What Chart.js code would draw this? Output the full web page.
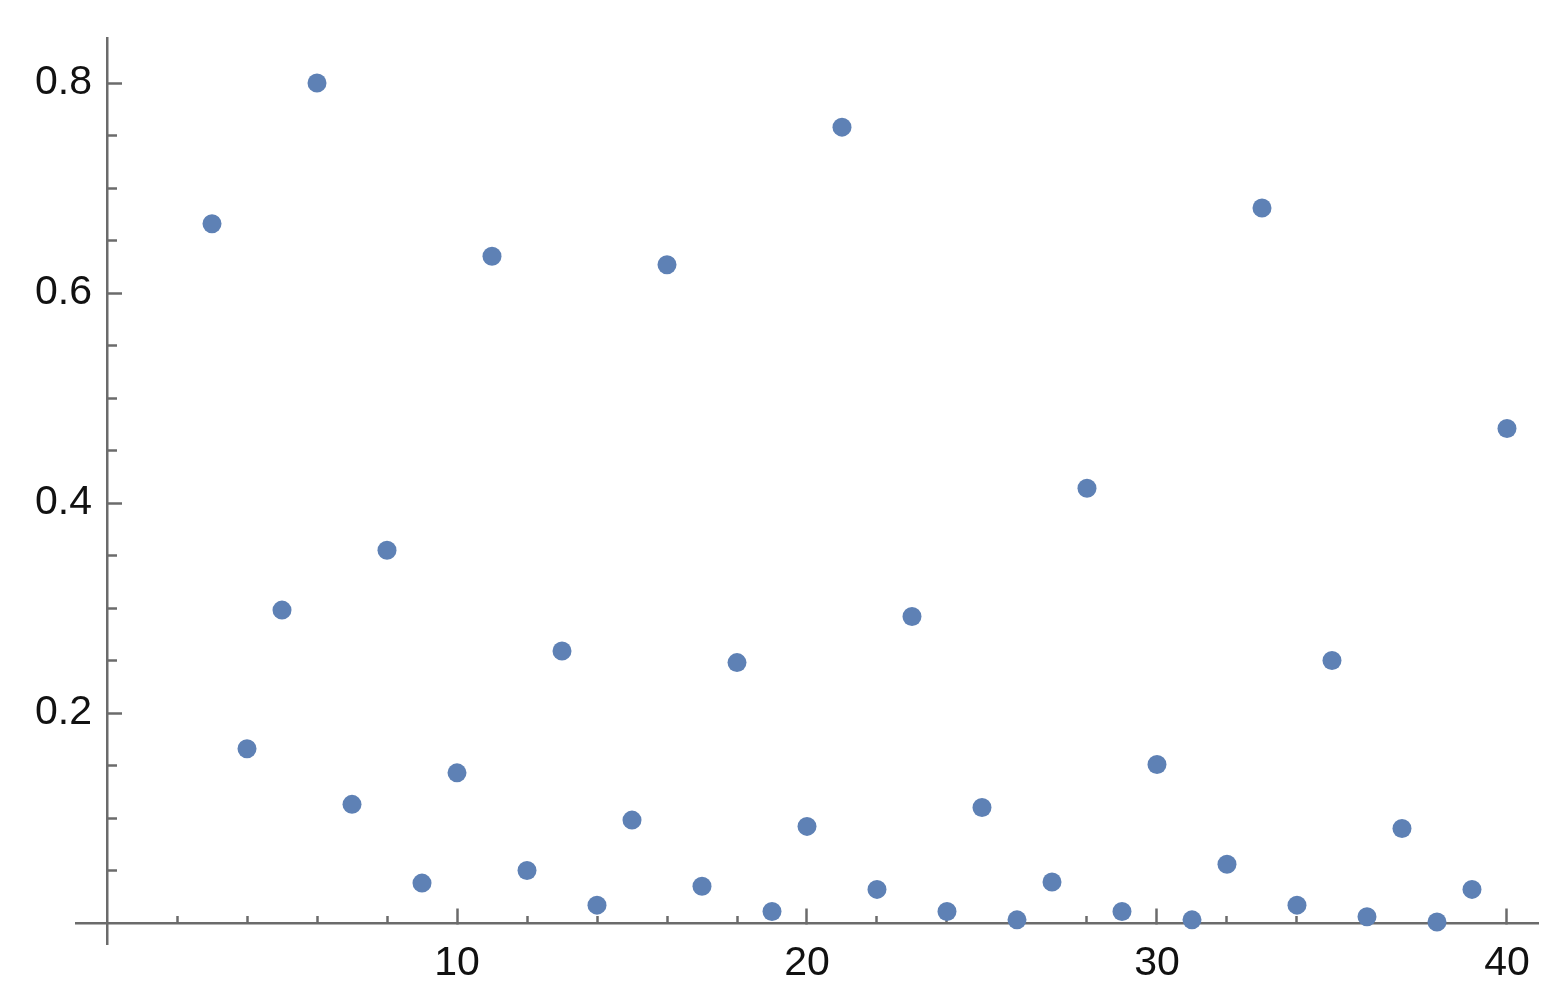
<!DOCTYPE html>
<html>
<head>
<meta charset="utf-8">
<script src="https://cdn.jsdelivr.net/npm/chart.js@4.4.1/dist/chart.umd.min.js"></script>
<style>
  html, body { margin: 0; padding: 0; background: #ffffff; }
</style>
</head>
<body>
<canvas id="grafico" width="1560" height="1003"></canvas>
<script>
// datos
var valoresX = [3, 4, 5, 6, 7, 8, 9, 10, 11, 12, 13, 14, 15, 16, 17, 18, 19, 20, 21,
                22, 23, 24, 25, 26, 27, 28, 29, 30, 31, 32, 33, 34, 35, 36, 37, 38, 39, 40];
var valoresY = [0.666, 0.166, 0.298, 0.800, 0.113, 0.355, 0.038, 0.143, 0.635, 0.050,
                0.259, 0.017, 0.098, 0.627, 0.035, 0.248, 0.011, 0.092, 0.758, 0.032,
                0.292, 0.011, 0.110, 0.003, 0.039, 0.414, 0.011, 0.151, 0.003, 0.056,
                0.681, 0.017, 0.250, 0.006, 0.090, 0.001, 0.032, 0.471];

var ticksX = [10, 20, 30, 40];
var ticksMenoresX = [2, 4, 6, 8, 12, 14, 16, 18, 22, 24, 26, 28, 32, 34, 36, 38];
var ticksY = [0.2, 0.4, 0.6, 0.8];
var ticksMenoresY = [0.05, 0.1, 0.15, 0.25, 0.3, 0.35, 0.45, 0.5, 0.55, 0.65, 0.7, 0.75];

var puntos = valoresX.map(function (x, i) {
    return { x: x, y: valoresY[i] };
});

var colorEje = "#6b6b6b";
var fuente = { family: "'Liberation Sans', Arial, sans-serif", size: 41 };
var rangoX = { min: -0.886, max: 40.886 };
var rangoY = { min: -0.02, max: 0.8429 };

function fijarTicks(lista) {
    return function (escala) {
        escala.ticks = lista.map(function (v) { return { value: v }; });
    };
}

function sinRelleno(escala) {
    escala.paddingLeft = 0;
    escala.paddingRight = 0;
    escala.paddingTop = 0;
    escala.paddingBottom = 0;
}

function ejeX(lista, largo, conEtiquetas) {
    return {
        type: "linear",
        position: { y: 0 },
        min: rangoX.min,
        max: rangoX.max,
        z: 1,
        afterBuildTicks: fijarTicks(lista),
        afterFit: function (s) { s.height = 0; sinRelleno(s); },
        border: { display: conEtiquetas, color: colorEje, width: 2.5 },
        grid: { drawOnChartArea: false, drawTicks: true, tickLength: largo, tickColor: colorEje, tickWidth: 2.5 },
        ticks: {
            display: conEtiquetas,
            color: "#111111",
            font: fuente,
            padding: 32,
            maxRotation: 0,
            autoSkip: false,
            callback: function (v) { return String(v); }
        }
    };
}

// eje vertical en x = 0, solo línea y marcas
function ejeY(lista, largo, conLinea) {
    return {
        type: "linear",
        position: { x: 0 },
        min: rangoY.min,
        max: rangoY.max,
        z: 1,
        afterBuildTicks: fijarTicks(lista),
        afterFit: function (s) { s.width = 0; sinRelleno(s); },
        border: { display: conLinea, color: colorEje, width: 2.5 },
        grid: { drawOnChartArea: false, drawTicks: true, tickLength: largo, tickColor: colorEje, tickWidth: 2.5 },
        ticks: { display: false }
    };
}

var ctx = document.getElementById("grafico").getContext("2d");
var chart = new Chart(ctx, {
    type: "scatter",
    data: {
        datasets: [
            {
                data: puntos,
                backgroundColor: "#5e81b5",
                borderColor: "#5e81b5",
                borderWidth: 0,
                pointRadius: 9.5,
                pointHoverRadius: 9.5,
                clip: false
            }
        ]
    },
    options: {
        responsive: false,
        animation: false,
        events: [],
        layout: { padding: { left: 0, right: 22, top: 38, bottom: 59 } },
        plugins: {
            legend: { display: false },
            tooltip: { enabled: false }
        },
        scales: {
            x: ejeX(ticksX, -16, true),
            x2: ejeX(ticksMenoresX, -7, false),
            y: ejeY(ticksY, -16, true),
            y2: ejeY(ticksMenoresY, -10, false),
            // etiquetas del eje vertical (ocupa el margen izquierdo)
            yEtiquetas: {
                type: "linear",
                position: "left",
                min: rangoY.min,
                max: rangoY.max,
                afterBuildTicks: fijarTicks(ticksY),
                afterFit: function (s) { s.width = 76; sinRelleno(s); },
                border: { display: false },
                grid: { display: false, drawTicks: false },
                ticks: {
                    color: "#111111",
                    font: fuente,
                    mirror: true, // sin recorte, se coloca a mano
                    padding: -41,
                    autoSkip: false,
                    callback: function (v) { return v.toFixed(1); }
                }
            }
        }
    }
});
</script>
</body>
</html>
